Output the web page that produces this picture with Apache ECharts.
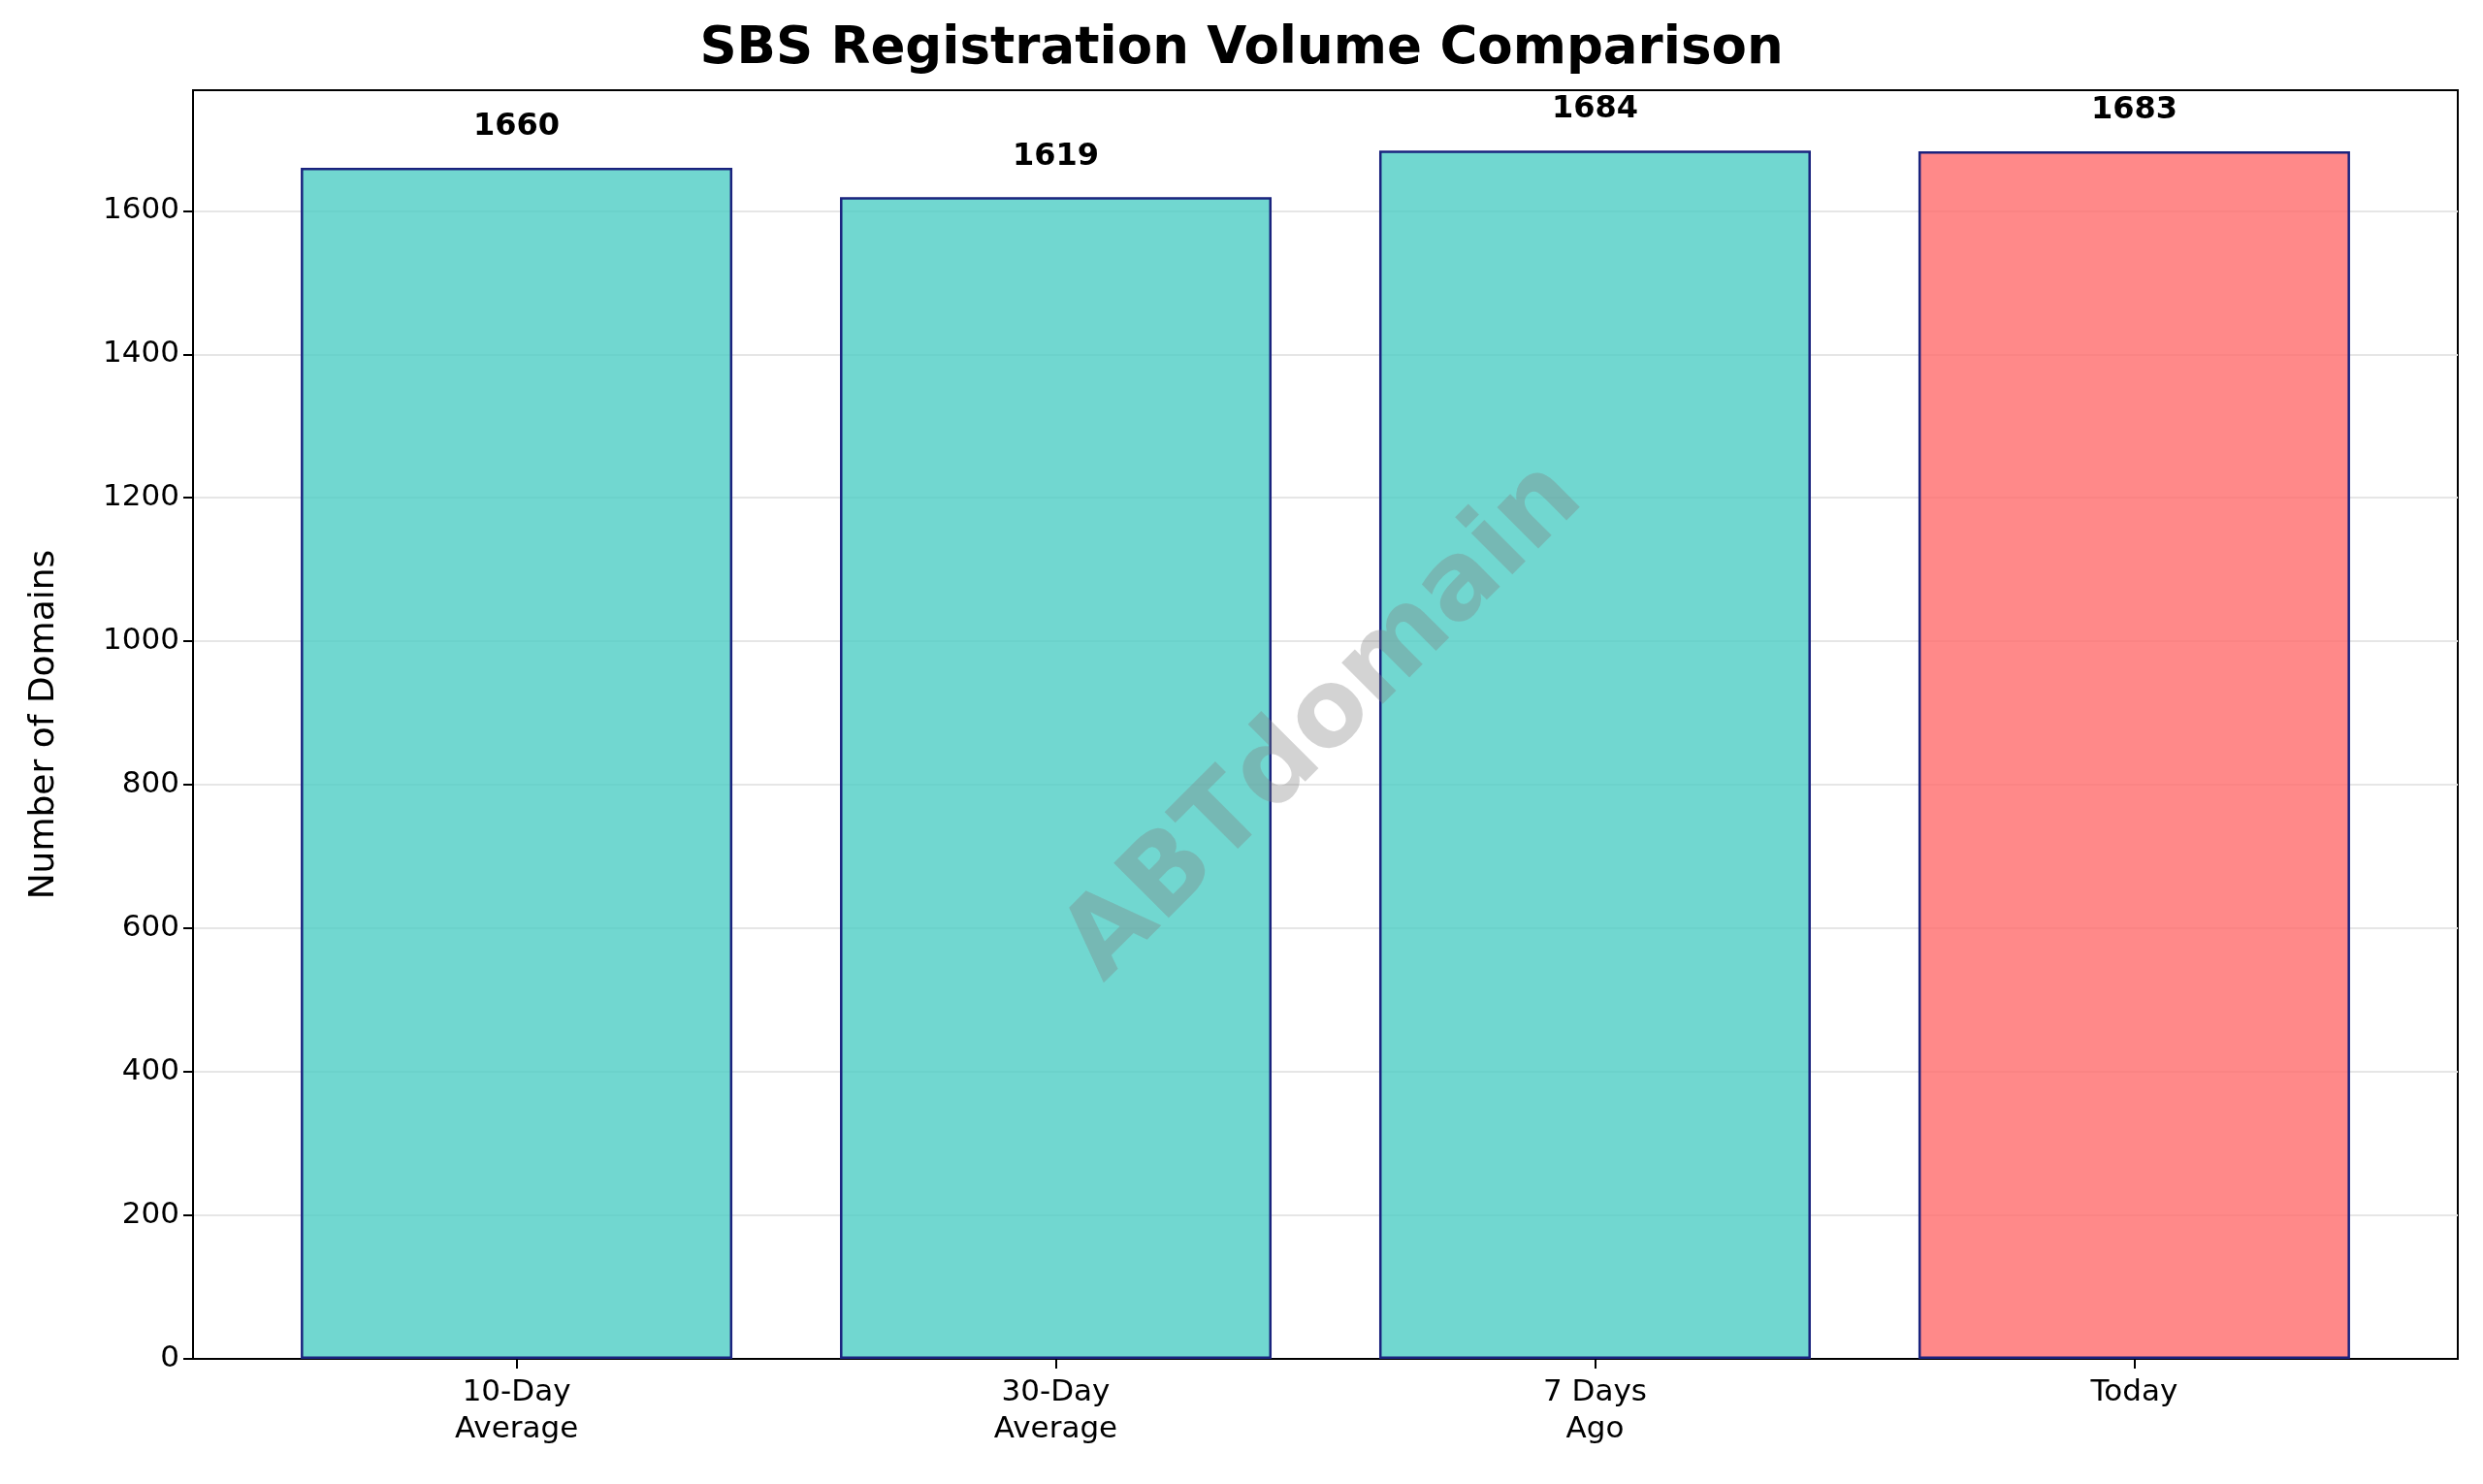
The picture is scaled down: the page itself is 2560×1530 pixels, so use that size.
<!DOCTYPE html>
<html><head><meta charset="utf-8">
<script src="https://cdn.jsdelivr.net/npm/echarts@6/dist/echarts.min.js"></script>
<style>html,body{margin:0;padding:0;background:#fff}#c{width:2560px;height:1530px}</style>
</head><body><div id="c"></div>
<script>
const categories = ['10-Day\nAverage', '30-Day\nAverage', '7 Days\nAgo', 'Today'];
const values = [1660, 1619, 1684, 1683];
const barColors = ['rgba(78,205,196,0.8)', 'rgba(78,205,196,0.8)', 'rgba(78,205,196,0.8)', 'rgba(255,107,107,0.8)'];
const yTicks = [0, 200, 400, 600, 800, 1000, 1200, 1400, 1600];

const chart = echarts.init(document.getElementById('c'));
const idx = categories.map((_, i) => i);
chart.setOption({
  animation: false,
  title: { text: 'SBS Registration Volume Comparison', left: 'center', top: 20,
    textStyle: { fontFamily: 'DejaVu Sans', fontWeight: 'bold', fontSize: 53, color: '#000' } },
  grid: { left: 199, right: 26, top: 93, bottom: 129, show: true, borderColor: '#000', borderWidth: 2, backgroundColor: 'transparent' },
  xAxis: { type: 'value', min: -0.6, max: 3.6,
    axisLine: { show: true, onZero: false, lineStyle: { color: '#000', width: 2 } },
    splitLine: { show: false },
    axisTick: { show: true, customValues: idx, length: 10, lineStyle: { color: '#000', width: 2 } },
    axisLabel: { customValues: idx, formatter: v => categories[Math.round(v)], fontFamily: 'DejaVu Sans', fontSize: 31, color: '#000', lineHeight: 38, margin: 16 } },
  yAxis: { type: 'value', min: 0, max: 1768,
    name: 'Number of Domains', nameLocation: 'middle', nameGap: 135, nameRotate: 90,
    nameTextStyle: { fontFamily: 'DejaVu Sans', fontSize: 36, color: '#000' },
    axisLine: { show: true, onZero: false, lineStyle: { color: '#000', width: 2 } },
    axisTick: { show: true, customValues: yTicks, length: 10, lineStyle: { color: '#000', width: 2 } },
    axisLabel: { customValues: yTicks, formatter: v => String(v), fontFamily: 'DejaVu Sans', fontSize: 31, color: '#000', margin: 14 },
    splitLine: { show: true, lineStyle: { color: '#e6e6e6', width: 2 } } },
  series: [{
    type: 'bar', barWidth: 445,
    data: values.map((v, i) => ({ value: [i, v], itemStyle: { color: barColors[i] } })),
    itemStyle: { borderColor: '#1a237e', borderWidth: 2.5 },
    label: { show: true, position: 'top', distance: 26, formatter: p => p.value[1],
      fontFamily: 'DejaVu Sans', fontWeight: 'bold', fontSize: 32, color: '#000' }
  }],
  graphic: [{ type: 'text', x: 1366, y: 745, rotation: Math.PI / 4, z: 100,
    style: { text: 'ABTdomain', align: 'center', verticalAlign: 'middle',
      font: 'bold 110px "DejaVu Sans"', fill: 'rgba(128,128,128,0.35)' } }]
});
</script></body></html>
